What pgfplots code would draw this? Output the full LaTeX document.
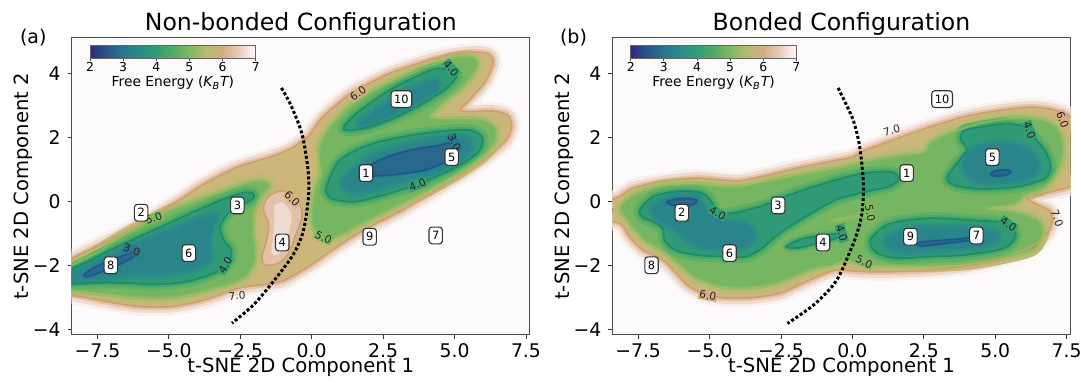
\documentclass[border=0pt]{standalone}
\usepackage{pgfplots}
\usepackage{pgfplotstable}
\pgfplotsset{compat=1.18}
\usetikzlibrary{calc}
\usepackage{fontspec}
\setmainfont{DejaVu Sans}

\definecolor{bgc}{RGB}{252,250,250}
\definecolor{h69}{RGB}{249,241,238}
\definecolor{h66}{RGB}{240,219,209}
\definecolor{h63}{RGB}{227,194,169}
\definecolor{c59}{RGB}{204,182,122}
\definecolor{c566}{RGB}{190,186,117}
\definecolor{c533}{RGB}{162,187,107}
\definecolor{c515}{RGB}{144,185,102}
\definecolor{c49}{RGB}{118,182,98}
\definecolor{c466}{RGB}{95,176,99}
\definecolor{c433}{RGB}{70,167,105}
\definecolor{c39}{RGB}{48,154,119}
\definecolor{c366}{RGB}{45,146,129}
\definecolor{c35}{RGB}{42,140,135}
\definecolor{c333}{RGB}{41,133,137}
\definecolor{c31}{RGB}{40,122,141}
\definecolor{c28}{RGB}{41,103,141}
\definecolor{l3}{RGB}{28,88,138}
\definecolor{l4}{RGB}{28,140,100}
\definecolor{l5}{RGB}{125,186,92}
\definecolor{l6}{RGB}{206,160,112}
\definecolor{lf3}{RGB}{40,120,142}
\definecolor{lf4}{RGB}{52,158,113}
\definecolor{lf5}{RGB}{128,184,98}
\definecolor{lf6}{RGB}{212,174,130}

% ---------------- panel (a) ----------------
\pgfplotstableread{
x y
-9.0 -2.2
-8.39 -1.8
-7.22 -1.28
-6.06 -0.74
-4.89 -0.11
-3.73 0.56
-2.56 1.08
-1.39 1.40
-0.7 1.66
-0.1 2.05
0.3 2.55
0.99 3.11
1.57 3.48
2.74 4.0
3.91 4.36
4.84 4.57
5.66 4.66
6.2 4.6
6.35 4.3
6.05 3.7
5.45 3.1
5.2 2.86
5.5 2.8
6.3 2.82
6.85 2.7
7.0 2.33
6.8 1.9
6.28 1.48
5.31 0.87
4.26 0.3
3.09 -0.32
1.92 -0.85
0.9 -1.42
0.0 -1.98
-0.9 -2.45
-1.5 -2.58
-2.56 -2.72
-3.73 -3.08
-4.89 -3.29
-6.06 -3.29
-7.22 -3.13
-8.39 -2.93
-9.0 -2.85
}\aSix
\pgfplotstableread{
x y
-0.93 0.30
-0.46 -0.01
-0.34 -0.48
-0.58 -1.10
-0.81 -1.62
-1.16 -1.94
-1.63 -1.99
-1.74 -1.73
-1.57 -1.21
-1.51 -0.69
-1.69 -0.27
-1.57 0.09
-1.28 0.27
}\aHole
\pgfplotstableread{
x y
-1.0 -0.05
-0.7 -0.45
-0.85 -1.1
-1.1 -1.6
-1.4 -1.65
-1.35 -1.1
-1.3 -0.5
-1.3 -0.15
}\aHoleIn
\pgfplotstableread{
x y
-9.0 -2.45
-8.39 -2.0
-7.5 -1.6
-6.6 -1.1
-5.53 -0.58
-5.0 -0.33
-3.73 0.09
-2.56 0.46
-1.86 0.62
-1.5 0.5
-1.74 0.22
-2.03 -0.27
-2.09 -0.9
-2.0 -1.52
-2.09 -2.04
-2.56 -2.46
-3.73 -2.77
-4.89 -2.98
-6.06 -2.98
-7.22 -2.87
-8.39 -2.77
-9.0 -2.75
}\aFiveL
\pgfplotstableread{
x y
-9.0 -2.3
-8.39 -2.12
-7.8 -1.87
-7.0 -1.5
-6.2 -1.17
-5.4 -0.85
-4.6 -0.52
-3.8 -0.2
-3.0 0.1
-2.4 0.27
-2.05 0.25
-2.05 0.08
-2.4 -0.1
-2.91 -0.37
-3.2 -0.79
-3.08 -1.21
-2.82 -1.52
-2.88 -1.88
-3.35 -2.22
-4.31 -2.5
-5.48 -2.6
-6.64 -2.55
-7.81 -2.55
-8.39 -2.58
-9.0 -2.6
}\aFourL
\pgfplotstableread{
x y
-7.95 -2.28
-7.6 -2.07
-7.0 -1.83
-6.5 -1.67
-6.2 -1.62
-6.25 -1.75
-6.8 -2.0
-7.4 -2.22
-7.85 -2.36
}\aThreeL
\pgfplotstableread{
x y
-8.6 -2.3
-7.5 -1.9
-6.5 -1.48
-5.5 -1.1
-4.5 -0.78
-3.7 -0.5
-3.35 -0.45
-3.45 -0.75
-3.6 -1.25
-3.55 -1.8
-4.2 -2.12
-5.2 -2.27
-6.5 -2.3
-7.5 -2.42
-8.6 -2.48
}\aCoreL
\pgfplotstableread{
x y
1.81 -0.64
1.0 -1.02
0.45 -1.15
0.1 -0.85
0.03 -0.3
0.15 0.4
0.35 0.87
0.29 1.6
0.52 2.12
1.22 2.85
2.27 3.48
3.91 4.15
5.07 4.47
5.66 4.47
5.77 4.21
5.31 3.63
4.49 3.01
4.08 2.62
4.49 2.54
5.77 2.54
6.36 2.33
6.41 1.92
6.01 1.45
5.07 0.87
3.91 0.3
2.74 -0.22
}\aFiveR
\pgfplotstableread{
x y
1.11 2.28
1.57 2.75
2.74 3.48
3.91 4.0
4.49 4.15
5.07 3.95
4.72 3.53
3.91 3.06
2.74 2.54
1.57 2.23
}\aFourU
\pgfplotstableread{
x y
0.52 0.46
0.99 1.29
2.16 1.81
3.91 2.12
5.42 2.23
5.95 2.02
5.89 1.6
5.31 1.19
4.37 0.77
3.7 0.52
2.74 0.25
1.57 -0.01
0.76 0.06
0.52 0.25
}\aFourR
\pgfplotstableread{
x y
1.75 0.93
2.2 1.2
2.74 1.42
3.6 1.62
4.37 1.73
4.9 1.82
5.08 1.7
4.9 1.4
4.72 1.24
3.91 0.96
2.74 0.82
1.92 0.8
}\aThreeR
\pgfplotstableread{
x y
1.7 2.48
2.7 3.08
3.6 3.55
4.35 3.75
4.3 3.45
3.5 3.0
2.6 2.62
1.9 2.4
}\aCoreU
\pgfplotstableread{
x y
1.1 0.62
1.9 1.28
3.0 1.68
4.2 1.92
5.3 1.98
5.55 1.62
4.9 1.12
3.8 0.78
2.6 0.5
1.5 0.3
}\aCoreR
\pgfplotstableread{
x y
-1.06 3.54
-0.76 3.06
-0.45 2.4
-0.29 1.92
-0.13 1.0
-0.1 0.3
-0.2 -0.5
-0.35 -1.1
-0.69 -1.73
-1.39 -2.56
-2.05 -3.25
-2.79 -3.81
}\aArc
\pgfplotstableread{
x y a
5.0 1.83 -65
-6.29 -1.53 -20
}\aLthree
\pgfplotstableread{
x y a
4.88 4.15 -50
3.70 0.52 20
-3.03 -2.0 60
}\aLfour
\pgfplotstableread{
x y a
-5.53 -0.53 20
0.41 -1.13 -25
}\aLfive
\pgfplotstableread{
x y a
1.62 3.36 35
-0.68 0.07 -45
}\aLsix
\pgfplotstableread{
x y a
-2.61 -2.95 5
}\aLseven

% ---------------- panel (b) ----------------
\pgfplotstableread{
x y
-9.0 0.0
-8.27 0.09
-7.69 0.41
-6.64 0.61
-5.47 0.72
-4.5 0.66
-3.95 0.64
-3.14 0.78
-1.97 1.03
-0.8 1.24
0.0 1.38
0.41 1.58
1.58 1.97
2.74 2.33
3.91 2.64
5.07 2.83
6.24 2.94
7.17 2.83
7.8 2.5
8.2 1.5
7.8 0.55
6.82 0.27
6.12 0.1
6.5 -0.12
6.9 -0.3
7.0 -0.6
6.82 -1.0
6.24 -1.42
5.07 -1.83
3.91 -2.04
2.74 -2.15
1.57 -2.2
0.41 -2.2
-0.5 -2.15
-0.92 -2.25
-1.74 -2.56
-2.55 -2.88
-3.72 -3.03
-4.89 -2.98
-5.7 -2.67
-6.17 -2.25
-6.64 -1.83
-7.34 -1.52
-7.8 -1.11
-8.15 -0.69
-9.0 -0.5
}\bSix
\pgfplotstableread{
x y
-8.1 -0.25
-7.92 -0.01
-7.45 0.25
-6.64 0.46
-5.47 0.52
-4.54 0.42
-3.8 0.45
-2.55 0.67
-1.39 0.87
-0.5 1.0
0.41 1.2
1.58 1.39
2.51 1.5
2.74 1.81
3.44 2.12
4.49 2.44
5.77 2.59
6.71 2.49
7.2 2.2
7.35 1.6
7.15 0.95
6.71 0.45
6.0 0.2
5.66 -0.06
4.61 -0.22
5.77 -0.38
6.45 -0.6
6.65 -0.9
6.55 -1.2
6.24 -1.52
5.07 -1.78
3.91 -1.94
2.74 -1.99
1.57 -1.99
0.41 -1.94
-0.22 -1.83
-0.8 -1.99
-1.39 -2.09
-1.97 -2.3
-2.79 -2.56
-3.72 -2.67
-4.65 -2.62
-5.47 -2.36
-6.05 -1.94
-6.64 -1.52
-7.22 -1.21
-7.57 -0.9
-7.92 -0.48
}\bFive
\pgfplotstableread{
x y
-7.44 -0.27
-6.96 0.15
-6.11 0.31
-5.27 0.26
-4.9 -0.06
-4.72 -0.37
-4.18 -0.37
-3.21 -0.16
-2.49 0.1
-1.52 0.41
-0.31 0.73
0.53 0.89
1.38 0.91
1.62 0.68
1.26 0.45
0.29 0.26
-0.56 0.05
-1.2 -0.25
-1.85 -0.6
-2.55 -1.0
-3.14 -1.45
-3.72 -1.73
-4.54 -1.73
-5.47 -1.68
-6.23 -1.52
-6.58 -1.21
-6.64 -0.85
-6.99 -0.64
-7.35 -0.5
}\bFour
\pgfplotstableread{
x y
-2.32 -1.42
-1.85 -1.2
-1.2 -1.08
-0.6 -1.02
-0.42 -1.06
-0.7 -1.2
-1.3 -1.33
-1.9 -1.46
}\bFourS
\pgfplotstableread{
x y
3.9 2.2
4.37 2.3
5.2 2.42
5.66 2.4
6.1 2.3
6.3 2.05
6.77 1.55
6.94 1.03
6.71 0.7
5.77 0.45
4.49 0.38
3.56 0.5
3.32 0.75
3.67 1.19
4.02 1.6
3.79 1.92
}\bFourU
\pgfplotstableread{
x y
0.7 -1.1
1.34 -0.69
2.74 -0.53
4.49 -0.61
5.31 -0.69
5.72 -1.05
5.31 -1.47
3.91 -1.68
2.74 -1.73
1.57 -1.78
0.88 -1.63
0.64 -1.37
}\bFourL
\pgfplotstableread{
x y
-6.5 -0.03
-6.2 0.06
-5.8 0.09
-5.45 0.03
-5.55 -0.09
-5.9 -0.14
-6.3 -0.12
}\bThreeA
\pgfplotstableread{
x y
4.84 0.86
5.0 0.95
5.3 0.98
5.54 0.94
5.45 0.84
5.15 0.79
4.92 0.8
}\bThreeB
\pgfplotstableread{
x y
2.3 -1.3
2.8 -1.24
3.5 -1.2
4.15 -1.14
4.1 -1.22
3.5 -1.29
2.8 -1.37
2.35 -1.4
}\bThreeC
\pgfplotstableread{
x y
-7.0 -0.2
-6.3 0.15
-5.5 0.15
-5.2 -0.2
-4.6 -0.62
-3.8 -0.72
-3.4 -1.1
-3.9 -1.45
-4.8 -1.48
-5.6 -1.3
-6.1 -0.9
-6.8 -0.55
}\bCoreL
\pgfplotstableread{
x y
3.9 1.25
4.4 1.68
5.3 1.8
6.2 1.55
6.5 1.05
6.05 0.72
5.0 0.6
4.15 0.72
}\bCoreU
\pgfplotstableread{
x y
1.2 -1.2
2.0 -0.88
3.3 -0.85
4.6 -0.9
5.1 -1.1
4.6 -1.38
3.3 -1.48
2.0 -1.55
1.3 -1.45
}\bCoreM
\pgfplotstableread{
x y
-0.85 -0.62
-0.5 -0.5
0.0 -0.42
0.5 -0.37
0.45 -0.47
-0.1 -0.6
-0.6 -0.68
}\bHump
\pgfplotstableread{
x y
-0.50 3.54
0.0 2.6
0.23 1.83
0.36 0.9
0.39 0.3
0.33 -0.4
0.18 -0.95
-0.05 -1.5
-0.56 -2.48
-1.3 -3.2
-2.27 -3.82
}\bArc
\pgfplotstableread{
x y a
6.2 2.22 -70
-4.72 -0.37 -30
-0.37 -1.0 -75
5.46 -0.71 -35
}\bLfour
\pgfplotstableread{
x y a
0.62 -0.38 -80
0.41 -1.9 -25
}\bLfive
\pgfplotstableread{
x y a
7.36 2.55 -70
-5.06 -2.95 -10
}\bLsix
\pgfplotstableread{
x y a
1.38 2.22 15
7.17 -0.53 -70
}\bLseven

% state labels (same positions in both panels)
\pgfplotstableread{
x y lab
1.9 0.88 1
-5.97 -0.36 2
-2.6 -0.13 3
-1.03 -1.29 4
4.9 1.38 5
-4.3 -1.62 6
4.34 -1.07 7
-7.03 -2.0 8
2.03 -1.11 9
3.14 3.19 10
}\states

\newcommand{\halo}[1]{%
  \addplot[forget plot, smooth cycle, draw=h69, line width=9pt, line join=round] table {#1};
  \addplot[forget plot, smooth cycle, draw=h66, line width=6pt, line join=round] table {#1};
  \addplot[forget plot, smooth cycle, draw=h63, line width=3pt, line join=round] table {#1};
  \addplot[forget plot, smooth cycle, draw=none, fill=c59] table {#1};}
\newcommand{\band}[6]{%
  \addplot[forget plot, smooth cycle, draw=#2, line width=#5, line join=round] table {#1};
  \addplot[forget plot, smooth cycle, draw=#3, line width=#6, line join=round] table {#1};
  \addplot[forget plot, smooth cycle, draw=none, fill=#4] table {#1};}
\newcommand{\cntr}[2]{%
  \addplot[forget plot, smooth cycle, draw=#2, line width=0.8pt] table {#1};}
\newcommand{\clab}[3]{%
  \addplot[forget plot, draw=none, mark=none, nodes near coords={#2},
    visualization depends on={\thisrow{a} \as \ang},
    every node near coord/.append style={anchor=center, rotate=\ang,
      font=\fontsize{5.3}{5.3}\selectfont, text=black!85, inner sep=0.4pt, #3}] table {#1};}
\newcommand{\statelabels}{%
  \addplot[forget plot, draw=none, mark=none, point meta=explicit symbolic, nodes near coords,
    every node near coord/.append style={anchor=center, draw=black!80, fill=white,
      rounded corners=1.5pt, line width=0.55pt, font=\fontsize{5.7}{5.7}\selectfont,
      inner xsep=1.55pt, inner ysep=0pt, minimum height=8.35pt, text height=4.16pt,
      text depth=0pt, text=black}] table[meta=lab] {\states};}
\newcommand{\arcline}[1]{%
  \addplot[forget plot, smooth, black, line width=1.5pt, dash pattern=on 1.5pt off 1.1pt] table {#1};}

\pgfplotsset{
  mainax/.style={
    scale only axis, width=229.15pt, height=148.65pt,
    xmin=-8.4, xmax=7.64, ymin=-4.18, ymax=5.11,
    xtick={-7.5,-5,-2.5,0,2.5,5,7.5},
    xticklabels={−7.5,−5.0,−2.5,0.0,2.5,5.0,7.5},
    ytick={-4,-2,0,2,4}, yticklabels={−4,−2,0,2,4},
    tick align=outside, major tick length=2pt, xtick pos=left, ytick pos=left,
    tick style={black!80, line width=0.45pt},
    axis line style={black!70, line width=0.5pt},
    tick label style={font=\fontsize{9.4}{11}\selectfont, text=black},
    xticklabel style={inner ysep=2pt},
    axis background/.style={fill=bgc},
    every axis title/.style={at={(axis description cs:0.5,1)}, anchor=base, yshift=3.4pt,
      font=\fontsize{11.8}{13}\selectfont},
    every axis x label/.style={at={(axis description cs:0.5,0)}, anchor=base, yshift=-18.8pt,
      inner sep=0.5pt, font=\fontsize{9.8}{11}\selectfont},
    every axis y label/.style={at={(axis description cs:-0.0947,0.5)}, rotate=90, anchor=base,
      inner sep=0.5pt, font=\fontsize{9.8}{11}\selectfont},
    xlabel={t-SNE 2D Component 1}, ylabel={t-SNE 2D Component 2},
    colormap={gearth}{rgb255=(45,40,125) rgb255=(42,85,140) rgb255=(40,118,142)
      rgb255=(42,140,135) rgb255=(50,158,115) rgb255=(80,172,100) rgb255=(128,184,98)
      rgb255=(180,188,112) rgb255=(212,172,128) rgb255=(234,205,190) rgb255=(253,250,250)},
    point meta min=2, point meta max=7,
    colorbar horizontal,
    colorbar shift/.style={},
    colorbar style={
      at={($(parent axis.north west)+(9.15pt,-4pt)$)}, anchor=north west,
      scale only axis, width=82.85pt, height=6.3pt,
      xtick={2,3,4,5,6,7}, xticklabels={2,3,4,5,6,7}, ytick=\empty,
      xtick pos=left, tick align=outside, major tick length=1.3pt,
      tick style={black!70, line width=0.4pt},
      axis line style={black!60, line width=0.4pt},
      xticklabel style={font=\fontsize{6.2}{7}\selectfont, inner sep=0pt, yshift=-0.6pt},
      xlabel={Free Energy ({\itshape K}\textsubscript{\itshape B}{\itshape T})},
      every axis x label/.style={at={(axis description cs:0.5,0)}, anchor=base,
        yshift=-14.3pt, inner sep=0pt, font=\fontsize{6.9}{8}\selectfont},
    },
  }
}

\begin{document}
\begin{tikzpicture}
% ================= panel (a) =================
\begin{axis}[mainax, at={(35.85pt,24pt)}, anchor=south west, title={Non-bonded Configuration}]
\halo{\aSix}
\band{\aFiveL}{c566}{c533}{c49}{7pt}{3.5pt}
\band{\aFiveR}{c566}{c533}{c49}{7pt}{3.5pt}
\band{\aFourL}{c466}{c433}{c39}{6pt}{3pt}
\band{\aFourR}{c466}{c433}{c39}{6pt}{3pt}
\band{\aFourU}{c466}{c433}{c39}{6pt}{3pt}
\band{\aCoreL}{c366}{c35}{c333}{5pt}{2.5pt}
\band{\aCoreR}{c366}{c35}{c333}{5pt}{2.5pt}
\band{\aCoreU}{c366}{c35}{c333}{5pt}{2.5pt}
\band{\aThreeL}{c333}{c31}{c28}{3pt}{1.5pt}
\band{\aThreeR}{c333}{c31}{c28}{3pt}{1.5pt}
\addplot[forget plot, smooth cycle, draw=none, fill=h63] table {\aHole};
\addplot[forget plot, smooth cycle, draw=none, fill=h66] table {\aHoleIn};
\cntr{\aSix}{l6}
\cntr{\aHole}{l6}
\cntr{\aFiveL}{l5}
\cntr{\aFiveR}{l5}
\cntr{\aFourL}{l4}
\cntr{\aFourR}{l4}
\cntr{\aFourU}{l4}
\cntr{\aThreeL}{l3}
\cntr{\aThreeR}{l3}
\clab{\aLthree}{3.0}{fill=lf3}
\clab{\aLfour}{4.0}{fill=lf4}
\clab{\aLfive}{5.0}{fill=lf5}
\clab{\aLsix}{6.0}{fill=lf6}
\clab{\aLseven}{7.0}{}
\arcline{\aArc}
\statelabels
\end{axis}
% ================= panel (b) =================
\begin{axis}[mainax, at={(306.2pt,24pt)}, anchor=south west, title={Bonded Configuration}]
\halo{\bSix}
\band{\bFive}{c566}{c533}{c49}{7pt}{3.5pt}
\band{\bFour}{c466}{c433}{c39}{6pt}{3pt}
\band{\bFourS}{c466}{c433}{c39}{4pt}{2pt}
\band{\bFourU}{c466}{c433}{c39}{6pt}{3pt}
\band{\bFourL}{c466}{c433}{c39}{6pt}{3pt}
\band{\bCoreL}{c366}{c35}{c333}{5pt}{2.5pt}
\band{\bCoreU}{c366}{c35}{c333}{5pt}{2.5pt}
\band{\bCoreM}{c366}{c35}{c333}{5pt}{2.5pt}
\band{\bThreeA}{c333}{c31}{c28}{3pt}{1.5pt}
\band{\bThreeB}{c333}{c31}{c28}{3pt}{1.5pt}
\band{\bThreeC}{c333}{c31}{c28}{3pt}{1.5pt}
\addplot[forget plot, smooth cycle, draw=none, fill=c515] table {\bHump};
\cntr{\bSix}{l6}
\cntr{\bFive}{l5}
\cntr{\bHump}{l5}
\cntr{\bFour}{l4}
\cntr{\bFourS}{l4}
\cntr{\bFourU}{l4}
\cntr{\bFourL}{l4}
\cntr{\bThreeA}{l3}
\cntr{\bThreeB}{l3}
\cntr{\bThreeC}{l3}
\clab{\bLfour}{4.0}{fill=lf4}
\clab{\bLfive}{5.0}{fill=lf5}
\clab{\bLsix}{6.0}{fill=lf6}
\clab{\bLseven}{7.0}{}
\arcline{\bArc}
\statelabels
\end{axis}
\node[anchor=base west, font=\fontsize{9.5}{11}\selectfont] at (6.5pt,169.75pt) {(a)};
\node[anchor=base west, font=\fontsize{9.5}{11}\selectfont] at (276.5pt,169.75pt) {(b)};
\pgfresetboundingbox
\useasboundingbox (0pt,0pt) rectangle (540.5pt,191.5pt);
\end{tikzpicture}
\end{document}
